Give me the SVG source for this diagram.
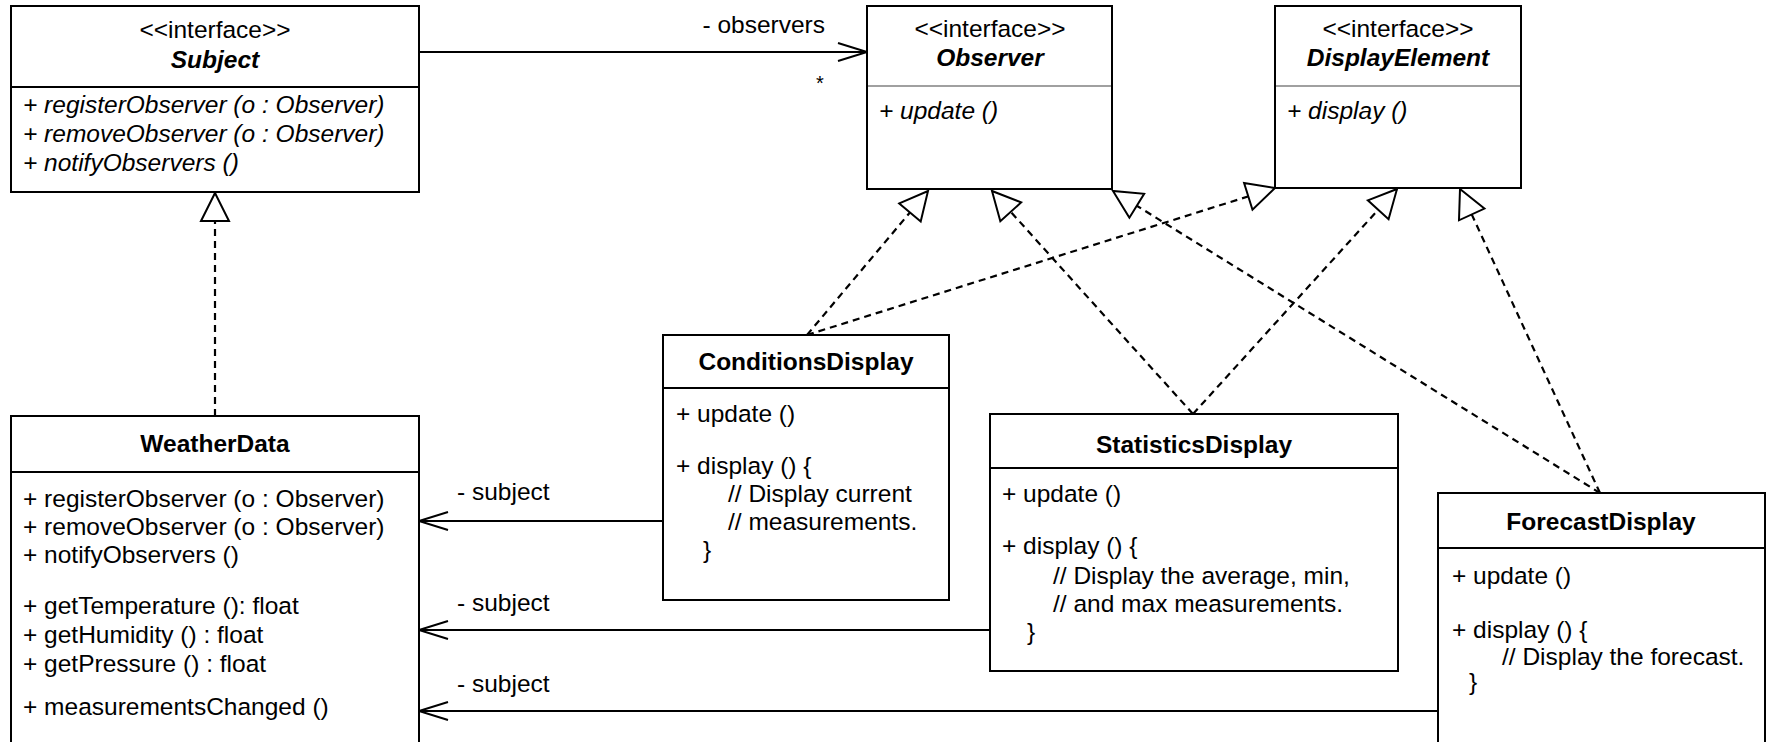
<svg xmlns="http://www.w3.org/2000/svg" width="1770" height="742" viewBox="0 0 1770 742">
  <style>
    text { font-family: "Liberation Sans", Helvetica, Arial, sans-serif; font-size: 24.5px; fill: #000; }
    .c { text-anchor: middle; }
    .title { font-weight: bold; }
    .abstract { font-style: italic; }
    .box { fill: #fff; stroke: #000; stroke-width: 2; }
    .sep { stroke: #000; stroke-width: 2; }
    .sep-grey { stroke: #a0a0a0; stroke-width: 2; }
    .assoc { fill: none; stroke: #000; stroke-width: 2; marker-end: url(#open-arrow); }
    .realize { fill: none; stroke: #000; stroke-width: 2.2; stroke-dasharray: 7 5; marker-end: url(#hollow-triangle); }
  </style>
  <defs>
    <marker id="hollow-triangle" viewBox="0 0 32 32" refX="29" refY="16" markerWidth="32" markerHeight="32" markerUnits="userSpaceOnUse" orient="auto" style="overflow:visible">
      <path d="M1 2 L29 16 L1 30 Z" fill="#fff" stroke="#000" stroke-width="2" stroke-dasharray="none" stroke-linejoin="miter"/>
    </marker>
    <marker id="open-arrow" viewBox="0 0 32 22" refX="30" refY="11" markerWidth="32" markerHeight="22" markerUnits="userSpaceOnUse" orient="auto" style="overflow:visible">
      <path d="M1 2 L30 11 L1 20" fill="none" stroke="#000" stroke-width="2" stroke-dasharray="none"/>
    </marker>
  </defs>

  <rect width="1770" height="742" fill="#fff"/>

  <!-- connectors -->
  <g id="connectors">
    <!-- Subject -> Observer association -->
    <line class="assoc" x1="419" y1="52" x2="867" y2="52"/>
    <text x="825" y="33" text-anchor="end">- observers</text>
    <text x="820" y="90" class="c" style="font-size:20px">*</text>

    <!-- WeatherData realizes Subject -->
    <line class="realize" x1="215" y1="416" x2="215" y2="193"/>

    <!-- displays -> WeatherData -->
    <line class="assoc" x1="663" y1="521" x2="419" y2="521"/>
    <text x="457" y="500">- subject</text>
    <line class="assoc" x1="990" y1="630" x2="419" y2="630"/>
    <text x="457" y="611">- subject</text>
    <line class="assoc" x1="1438" y1="711" x2="419" y2="711"/>
    <text x="457" y="692">- subject</text>

    <!-- displays realize Observer / DisplayElement -->
    <line class="realize" x1="807" y1="335" x2="928" y2="191"/>
    <line class="realize" x1="807" y1="335" x2="1275" y2="188"/>
    <line class="realize" x1="1193" y1="414" x2="992" y2="191"/>
    <line class="realize" x1="1193" y1="414" x2="1397" y2="189"/>
    <line class="realize" x1="1600" y1="493" x2="1113" y2="191"/>
    <line class="realize" x1="1600" y1="493" x2="1460" y2="189"/>
  </g>

  <!-- Subject interface -->
  <g id="subject">
    <rect class="box" x="11" y="6" width="408" height="186"/>
    <line class="sep" x1="11" y1="87" x2="419" y2="87"/>
    <text x="215" y="38" class="c">&lt;&lt;interface&gt;&gt;</text>
    <text x="215" y="68" class="c title abstract">Subject</text>
    <text x="23" y="113" class="abstract">+ registerObserver (o : Observer)</text>
    <text x="23" y="142" class="abstract">+ removeObserver (o : Observer)</text>
    <text x="23" y="171" class="abstract">+ notifyObservers ()</text>
  </g>

  <!-- Observer interface -->
  <g id="observer">
    <rect class="box" x="867" y="6" width="245" height="183"/>
    <line class="sep-grey" x1="868" y1="86" x2="1111" y2="86"/>
    <text x="990" y="37" class="c">&lt;&lt;interface&gt;&gt;</text>
    <text x="990" y="66" class="c title abstract">Observer</text>
    <text x="879" y="119" class="abstract">+ update ()</text>
  </g>

  <!-- DisplayElement interface -->
  <g id="display-element">
    <rect class="box" x="1275" y="6" width="246" height="182"/>
    <line class="sep-grey" x1="1276" y1="86" x2="1520" y2="86"/>
    <text x="1398" y="37" class="c">&lt;&lt;interface&gt;&gt;</text>
    <text x="1398" y="66" class="c title abstract">DisplayElement</text>
    <text x="1287" y="119" class="abstract">+ display ()</text>
  </g>

  <!-- WeatherData class -->
  <g id="weather-data">
    <rect class="box" x="11" y="416" width="408" height="340"/>
    <line class="sep" x1="11" y1="472" x2="419" y2="472"/>
    <text x="215" y="452" class="c title">WeatherData</text>
    <text x="23" y="507">+ registerObserver (o : Observer)</text>
    <text x="23" y="535">+ removeObserver (o : Observer)</text>
    <text x="23" y="563">+ notifyObservers ()</text>
    <text x="23" y="614">+ getTemperature (): float</text>
    <text x="23" y="643">+ getHumidity () : float</text>
    <text x="23" y="672">+ getPressure () : float</text>
    <text x="23" y="715">+ measurementsChanged ()</text>
  </g>

  <!-- ConditionsDisplay class -->
  <g id="conditions-display">
    <rect class="box" x="663" y="335" width="286" height="265"/>
    <line class="sep" x1="663" y1="388" x2="949" y2="388"/>
    <text x="806" y="370" class="c title">ConditionsDisplay</text>
    <text x="676" y="422">+ update ()</text>
    <text x="676" y="474">+ display () {</text>
    <text x="728" y="502">// Display current</text>
    <text x="728" y="530">// measurements.</text>
    <text x="703" y="558">}</text>
  </g>

  <!-- StatisticsDisplay class -->
  <g id="statistics-display">
    <rect class="box" x="990" y="414" width="408" height="257"/>
    <line class="sep" x1="990" y1="468" x2="1398" y2="468"/>
    <text x="1194" y="453" class="c title">StatisticsDisplay</text>
    <text x="1002" y="502">+ update ()</text>
    <text x="1002" y="554">+ display () {</text>
    <text x="1053" y="584">// Display the average, min,</text>
    <text x="1053" y="612">// and max measurements.</text>
    <text x="1027" y="640">}</text>
  </g>

  <!-- ForecastDisplay class -->
  <g id="forecast-display">
    <rect class="box" x="1438" y="493" width="327" height="263"/>
    <line class="sep" x1="1438" y1="548" x2="1765" y2="548"/>
    <text x="1601" y="530" class="c title">ForecastDisplay</text>
    <text x="1452" y="584">+ update ()</text>
    <text x="1452" y="638">+ display () {</text>
    <text x="1502" y="665">// Display the forecast.</text>
    <text x="1469" y="690">}</text>
  </g>
</svg>
